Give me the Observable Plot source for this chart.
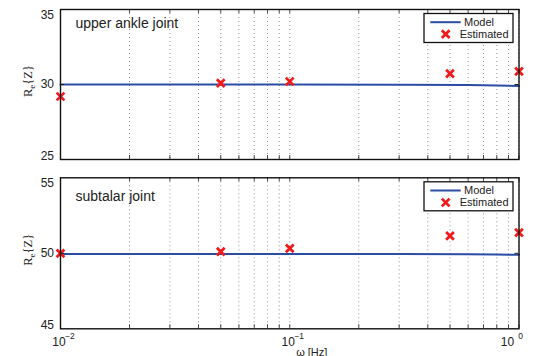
<!DOCTYPE html>
<html><head><meta charset="utf-8">
<script src="https://cdn.jsdelivr.net/npm/d3@7"></script>
<script src="https://cdn.jsdelivr.net/npm/@observablehq/plot@0.6"></script>
<style>
html,body{margin:0;padding:0;background:#fff;overflow:hidden}
#wrap{position:relative;width:536px;height:356px;overflow:hidden}
#wrap svg{position:absolute;left:0;overflow:visible}
</style></head><body><div id="wrap"></div>
<script>
// ---- data ----
const freq = [0.01, 0.05, 0.1, 0.5, 1.0];
const ankleEstimated = [29.2, 30.09, 30.2, 30.73, 30.87];
const subtalarEstimated = [50.0, 50.11, 50.33, 51.15, 51.37];
const modelFreq = [0.01, 0.1, 0.3, 0.6, 0.8, 1.0];
const ankleModel = [30.0, 30.0, 29.99, 29.97, 29.94, 29.9];
const subtalarModel = [49.96, 49.96, 49.95, 49.94, 49.92, 49.9];
const gridTicks = [0.01,0.02,0.03,0.04,0.05,0.06,0.07,0.08,0.09,0.1,0.2,0.3,0.4,0.5,0.6,0.7,0.8,0.9,1];
const majorTicks = [0.01, 0.1, 1];
const tickBase = ["10", "10", "10"];
const tickExp = ["\u22122", "\u22121", "0"];
const ankleYTicks = [25, 30, 35];
const subtalarYTicks = [45, 50, 55];
const panelTitles = ["upper ankle joint", "subtalar joint"];
const legendLabels = ["Model", "Estimated"];
const xLabel = "\u03c9 [Hz]";

const FONT = "'Liberation Sans', Arial, sans-serif";
const BLUE = "#2b4ca6";
const RED = "#f21a1a";

function panel({est, model, yTicks, title, height, top, mTop, mBottom, titleDy, showX}) {
  const toRow = (vals, xs) => xs.map((f, i) => ({f, v: vals[i]}));
  const estRows = toRow(est, freq);
  const modelRows = toRow(model, modelFreq);
  const ph = height - mTop - mBottom;
  const marks = [
    Plot.ruleX(gridTicks, {x: d => d, stroke: "#777", strokeWidth: 0.8, strokeDasharray: "1,3"}),
    Plot.tickX(gridTicks, {x: d => d, stroke: "#222", strokeWidth: 0.8, insetTop: ph - 4}),
    Plot.tickX(gridTicks, {x: d => d, stroke: "#222", strokeWidth: 0.8, insetBottom: ph - 4}),
    Plot.line(modelRows, {x: "f", y: "v", stroke: BLUE, strokeWidth: 2}),
    Plot.dot(estRows, {x: "f", y: "v", symbol: "times", r: 3.6, stroke: RED, strokeWidth: 2.8}),
    Plot.frame({stroke: "#111", strokeWidth: 1.4}),
    Plot.text([yTicks[2]], {y: d => d, text: d => String(d), frameAnchor: "left", textAnchor: "end", lineAnchor: "top", dx: -6.5, dy: 1, fontSize: 12, fill: "#222"}),
    Plot.text([yTicks[1]], {y: d => d, text: d => String(d), frameAnchor: "left", textAnchor: "end", lineAnchor: "middle", dx: -6.5, fontSize: 12, fill: "#222"}),
    Plot.text([yTicks[0]], {y: d => d, text: d => String(d), frameAnchor: "left", textAnchor: "end", lineAnchor: "bottom", dx: -6.5, dy: 0.5, fontSize: 12, fill: "#222"}),
    Plot.tickY([yTicks[1]], {y: d => d, stroke: "#222", insetRight: 458.5 - 4}),
    Plot.tickY([yTicks[1]], {y: d => d, stroke: "#222", insetLeft: 458.5 - 4}),
    Plot.text([title], {frameAnchor: "top-left", textAnchor: "start", lineAnchor: "top", dx: 15, dy: titleDy, fontSize: 14, fill: "#222"})
  ];
  if (showX) {
    const idx = [0, 1];
    marks.push(
      Plot.text(idx, {x: i => majorTicks[i], text: i => tickBase[i], frameAnchor: "bottom", lineAnchor: "bottom", dy: 16.7, dx: -1.5, fontSize: 12, fill: "#222"}),
      Plot.text(idx, {x: i => majorTicks[i], text: i => tickExp[i], frameAnchor: "bottom", lineAnchor: "bottom", dy: 9.8, dx: 9.5, fontSize: 8.5, fill: "#222"}),
      Plot.text([2], {x: i => majorTicks[i], text: i => tickBase[i], frameAnchor: "bottom", lineAnchor: "bottom", dy: 16.7, dx: -11.5, fontSize: 12, fill: "#222"}),
      Plot.text([2], {x: i => majorTicks[i], text: i => tickExp[i], frameAnchor: "bottom", lineAnchor: "bottom", dy: 9.8, dx: 1.5, fontSize: 8.5, fill: "#222"}),
      Plot.text([xLabel], {frameAnchor: "bottom", lineAnchor: "bottom", dx: 22, dy: 26.7, fontSize: 11, fill: "#222"})
    );
  }
  const svg = Plot.plot({
    width: 536, height,
    marginLeft: 60, marginRight: 17.5, marginTop: mTop, marginBottom: mBottom,
    style: {fontFamily: FONT, background: "transparent", overflow: "visible"},
    x: {type: "log", domain: [0.01, 1], axis: null},
    y: {domain: [yTicks[0], yTicks[2]], axis: null},
    marks
  });
  svg.style.top = top + "px";
  const s = d3.select(svg);
  // y label with subscript e
  const plotTop = mTop, plotBot = height - mBottom;
  const cy = (plotTop + plotBot) / 2 - 3;
  const yl = s.append("text")
    .attr("transform", `translate(32,${cy}) rotate(-90)`)
    .attr("text-anchor", "middle")
    .attr("font-family", "'Liberation Serif', 'Times New Roman', serif")
    .attr("font-size", 12.5).attr("fill", "#222");
  yl.append("tspan").text("R");
  yl.append("tspan").attr("font-size", 9).attr("dy", 2.5).text("e");
  yl.append("tspan").attr("dy", -2.5).text("{Z}");
  // legend
  const bx = 424, by = plotTop + 4.5, bw = 89, bh = 29;
  const g = s.append("g").attr("font-family", FONT).attr("font-size", 11).attr("fill", "#222").attr("text-anchor", "start");
  g.append("rect").attr("x", bx).attr("y", by).attr("width", bw).attr("height", bh)
    .attr("fill", "#fff").attr("stroke", "#111").attr("stroke-width", 1.3);
  g.append("line").attr("x1", bx + 6.3).attr("x2", bx + 36.7).attr("y1", by + 8.7).attr("y2", by + 8.7)
    .attr("stroke", BLUE).attr("stroke-width", 2);
  g.append("text").attr("x", bx + 40).attr("y", by + 8.7).attr("dy", "0.35em").text(legendLabels[0]);
  g.append("path").attr("d", d3.symbol(d3.symbolTimes, Math.PI * 3.6 * 3.6)())
    .attr("transform", `translate(${bx + 21.7},${by + 20.7})`)
    .attr("fill", "none").attr("stroke", RED).attr("stroke-width", 2.8);
  g.append("text").attr("x", bx + 35.7).attr("y", by + 20.7).attr("dy", "0.35em").text(legendLabels[1]);
  return svg;
}

const wrap = document.getElementById("wrap");
wrap.appendChild(panel({est: ankleEstimated, model: ankleModel, yTicks: ankleYTicks, title: panelTitles[0],
  height: 170, top: 0, mTop: 9, mBottom: 11, titleDy: 8.3, showX: false}));
wrap.appendChild(panel({est: subtalarEstimated, model: subtalarModel, yTicks: subtalarYTicks, title: panelTitles[1],
  height: 190, top: 170, mTop: 7.3, mBottom: 31.7, titleDy: 13.4, showX: true}));
</script></body></html>
